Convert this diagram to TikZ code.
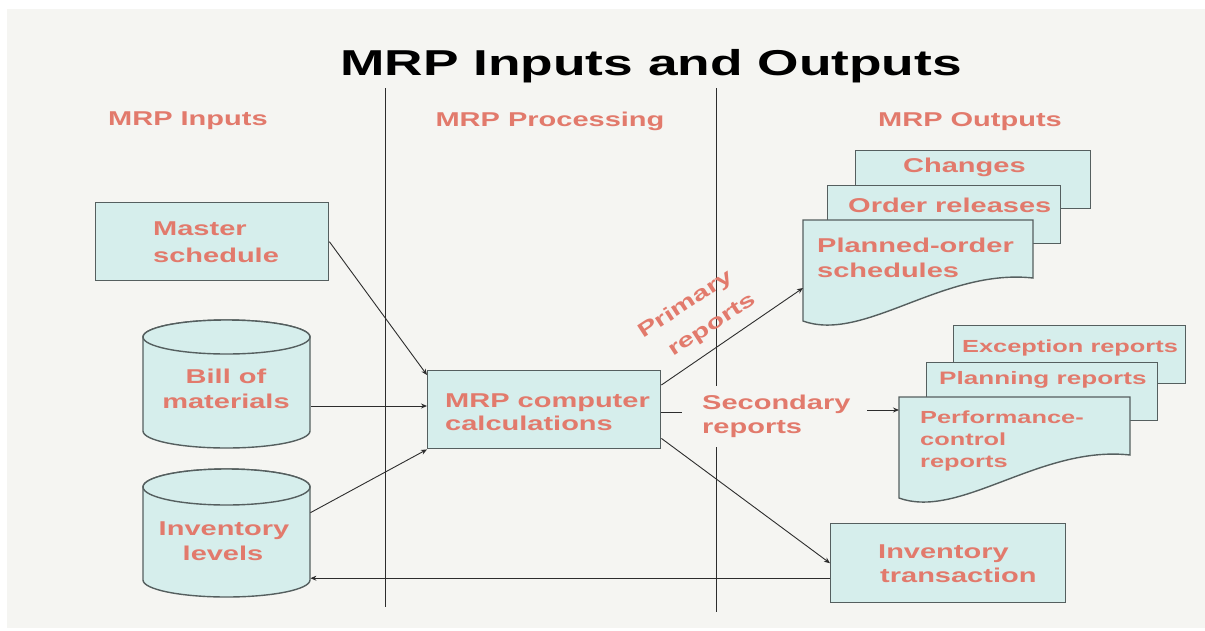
\documentclass[tikz,border=0pt]{standalone}
\usepackage{fontspec}
\usetikzlibrary{arrows.meta,calc}
\newfontfamily\labfont[FakeStretch=1.45]{Liberation Sans}
\newfontfamily\titfont[FakeStretch=1.48]{Liberation Sans}
\definecolor{bgc}{RGB}{245,245,242}
\definecolor{salmon}{RGB}{226,122,108}
\definecolor{boxfill}{RGB}{214,238,236}
\definecolor{boxline}{RGB}{85,95,95}
\definecolor{conline}{RGB}{45,45,45}
\begin{document}
\begin{tikzpicture}[x=1pt,y=-1pt,
  box/.style={draw=boxline, fill=boxfill, line width=1.4pt, inner sep=0pt, anchor=north west},
  ghost/.style={inner sep=0pt, anchor=north west},
  shp/.style={draw=boxline, fill=boxfill, line width=1.4pt},
  lab/.style={text=salmon, inner sep=0pt, font=\labfont\bfseries\fontsize{20}{24}\selectfont},
  labs/.style={text=salmon, inner sep=0pt, font=\labfont\bfseries\fontsize{17.5}{21}\selectfont},
  hdr/.style={text=salmon, inner sep=0pt, font=\labfont\bfseries\fontsize{20}{24}\selectfont},
  conn/.style={draw=conline, line width=0.9pt, -{Stealth[length=6pt,width=5pt]}},
  plain/.style={draw=conline, line width=0.9pt},
  divider/.style={draw=conline, line width=1pt}]
\useasboundingbox (0,0) rectangle (1205,630);
\fill[white] (0,0) rectangle (1205,630);
\fill[bgc] (7,9) rectangle (1205,628);

% title and headers
\node[anchor=base, inner sep=0pt, font=\titfont\bfseries\fontsize{36}{40}\selectfont] (title) at (651,75) {MRP Inputs and Outputs};
\node[hdr, anchor=base west] (h1) at (108,125) {MRP Inputs};
\node[hdr, anchor=base] (h2) at (550,126) {MRP Processing};
\node[hdr, anchor=base west] (h3) at (878,126) {MRP Outputs};

% dividers
\draw[divider] (385,88) -- (385,607);
\draw[divider] (716,88) -- (716,386);
\draw[divider] (716,447) -- (716,612);

% master schedule
\node[box, minimum width=233pt, minimum height=78pt] (master) at (95,202) {};
\node[lab, anchor=base west] (m1) at (153,235) {Master};
\node[lab, anchor=base west] (m2) at (153,262) {schedule};

% bill of materials cylinder
\path[shp] (143,337) -- (143,431) arc[start angle=180, end angle=0, x radius=83.5, y radius=17] -- (310,337) arc[start angle=0, end angle=-180, x radius=83.5, y radius=17] -- cycle;
\path[shp] (226.5,337) ellipse [x radius=83.5, y radius=17];
\node[ghost, minimum width=167pt, minimum height=128pt] (bom) at (143,320) {};
\node[lab, anchor=base] (b1) at (226,383) {Bill of};
\node[lab, anchor=base] (b2) at (226,408) {materials};

% inventory levels cylinder
\path[shp] (143,487) -- (143,580) arc[start angle=180, end angle=0, x radius=83.5, y radius=17] -- (310,487) arc[start angle=0, end angle=-180, x radius=83.5, y radius=18] -- cycle;
\path[shp] (226.5,487) ellipse [x radius=83.5, y radius=18];
\node[ghost, minimum width=167pt, minimum height=129pt] (inv) at (143,468) {};
\node[lab, anchor=base] (i1) at (224,535) {Inventory};
\node[lab, anchor=base] (i2) at (223,560) {levels};

% MRP box
\node[box, minimum width=233pt, minimum height=78pt] (mrp) at (427,370) {};
\node[lab, anchor=base west] (c1) at (445,407) {MRP computer};
\node[lab, anchor=base west] (c2) at (445,430) {calculations};

% primary outputs stack
\node[box, minimum width=235pt, minimum height=58pt] (chg) at (855,150) {};
\node[lab, anchor=base west] (chgt) at (903,172) {Changes};
\node[box, minimum width=233pt, minimum height=58pt] (ord) at (827,185) {};
\node[lab, anchor=base west] (ordt) at (848,212) {Order releases};
\path[shp] (803,220) -- (1033,220) -- (1033,278) .. controls (943,268) and (864,343) .. (803,321) -- cycle;
\node[ghost, minimum width=230pt, minimum height=110pt] (plan) at (803,220) {};
\node[lab, anchor=base west] (p1) at (817,252) {Planned-order};
\node[lab, anchor=base west] (p2) at (817,277) {schedules};

% secondary outputs stack
\node[box, minimum width=232pt, minimum height=58pt] (exc) at (953,325) {};
\node[labs, anchor=base west] (exct) at (962,352) {Exception reports};
\node[box, minimum width=231pt, minimum height=58pt] (pln) at (926,362) {};
\node[labs, anchor=base west, font=\labfont\bfseries\fontsize{18}{21}\selectfont] (plnt) at (939,384) {Planning reports};
\path[shp] (899,397) -- (1130,397) -- (1130,455) .. controls (1040,445) and (960,520) .. (899,498) -- cycle;
\node[ghost, minimum width=231pt, minimum height=106pt] (perf) at (899,397) {};
\node[labs, anchor=base west] (f1) at (920,423) {Performance-};
\node[labs, anchor=base west] (f2) at (920,445) {control};
\node[labs, anchor=base west] (f3) at (920,467) {reports};

% inventory transaction
\node[box, minimum width=235pt, minimum height=79pt] (invt) at (830,523) {};
\node[lab, anchor=base west] (t1) at (878,558) {Inventory};
\node[lab, anchor=base west] (t2) at (880,582) {transaction};

% labels on connectors
\node[ghost, minimum width=185pt, minimum height=61pt] (secbg) at (682,386) {};
\node[lab, anchor=base west] (s1) at (702,409) {Secondary};
\node[lab, anchor=base west] (s2) at (702,433) {reports};
\node[lab, rotate=33] (prim1) at (686,305) {Primary};
\node[lab, rotate=33] (prim2) at (713,326) {reports};

% connectors
\coordinate (bomout) at (311,406);
\coordinate (perfin) at ([yshift=-13pt]perf.north west);
\coordinate (mrpsec) at ([yshift=-3pt]mrp.east);
\draw[conn] (master.east) -- ([yshift=-5pt]mrp.north west);
\draw[conn] (bomout) -- (bomout -| mrp.west);
\draw[conn] ([yshift=20pt]inv.east) -- (mrp.south west);
\draw[conn] ([yshift=-15pt]mrp.north east) -- ([yshift=-68pt]plan.north west);
\draw[plain] (mrpsec) -- (mrpsec -| secbg.west);
\draw[conn] (perfin -| secbg.east) -- (perfin);
\draw[conn] ([yshift=11pt]mrp.south east) -- (invt.west);
\draw[conn] ([yshift=-15pt]invt.west) -- ([yshift=-15pt]invt.west -| inv.east);
\end{tikzpicture}
\end{document}
